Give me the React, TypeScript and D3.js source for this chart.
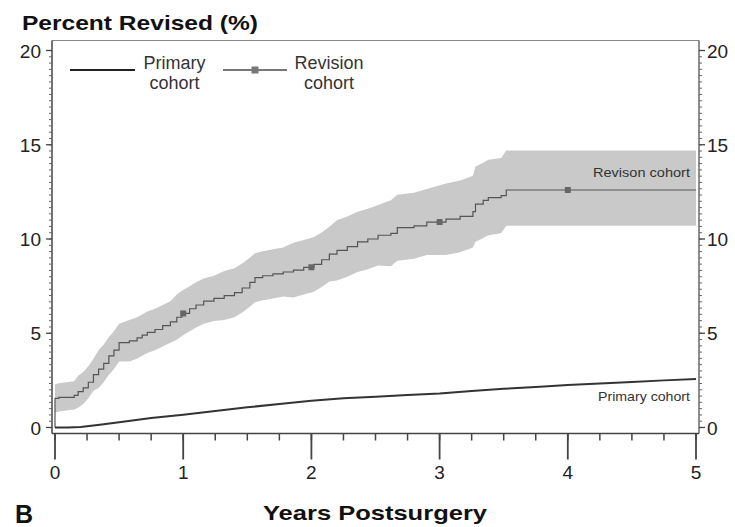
import React from "react";
import * as d3 from "d3";

// ---- Data ----
const revTime = [0, 0.03, 0.15, 0.18, 0.22, 0.26, 0.30, 0.34, 0.38, 0.42, 0.46, 0.50, 0.58, 0.64, 0.68, 0.72, 0.78, 0.84, 0.90, 0.95, 0.99, 1.05, 1.10, 1.16, 1.24, 1.32, 1.40, 1.46, 1.52, 1.56, 1.62, 1.70, 1.78, 1.86, 1.94, 2.02, 2.08, 2.14, 2.20, 2.28, 2.36, 2.44, 2.52, 2.62, 2.67, 2.80, 2.90, 3.05, 3.16, 3.26, 3.28, 3.34, 3.38, 3.48, 3.52, 5.0];
const revValue = [1.55, 1.6, 1.7, 1.9, 2.1, 2.4, 2.8, 3.1, 3.4, 3.8, 4.1, 4.5, 4.6, 4.75, 4.9, 5.05, 5.2, 5.4, 5.6, 5.85, 6.05, 6.3, 6.5, 6.7, 6.85, 7.0, 7.15, 7.4, 7.7, 7.95, 8.05, 8.15, 8.25, 8.35, 8.5, 8.65, 8.9, 9.2, 9.4, 9.6, 9.85, 10.0, 10.2, 10.3, 10.6, 10.7, 10.9, 11.05, 11.2, 11.45, 11.85, 12.05, 12.2, 12.3, 12.6, 12.6];
const revLower = [0.8, 0.85, 0.95, 1.05, 1.25, 1.55, 1.95, 2.1, 2.4, 2.8, 3.1, 3.5, 3.5, 3.65, 3.8, 3.95, 4.1, 4.3, 4.5, 4.65, 4.85, 5.1, 5.3, 5.5, 5.65, 5.7, 5.85, 6.1, 6.4, 6.65, 6.75, 6.85, 6.95, 6.9, 7.05, 7.2, 7.45, 7.75, 7.8, 8.0, 8.25, 8.4, 8.6, 8.55, 8.85, 8.95, 9.15, 9.15, 9.3, 9.55, 9.85, 10.05, 10.2, 10.3, 10.7, 10.7];
const revUpper = [2.3, 2.35, 2.45, 2.75, 2.95, 3.25, 3.65, 4.1, 4.4, 4.8, 5.1, 5.5, 5.7, 5.85, 6.0, 6.15, 6.3, 6.5, 6.7, 7.05, 7.25, 7.5, 7.7, 7.9, 8.05, 8.3, 8.45, 8.7, 9.0, 9.25, 9.35, 9.45, 9.55, 9.8, 9.95, 10.1, 10.35, 10.65, 11.0, 11.2, 11.45, 11.6, 11.8, 12.05, 12.35, 12.45, 12.65, 12.95, 13.1, 13.35, 13.85, 14.05, 14.2, 14.3, 14.7, 14.7];
const revMarkerTimes = [1, 2, 3, 4];

const primTime = [0, 0.1, 0.2, 0.35, 0.5, 0.75, 1.0, 1.25, 1.5, 1.75, 2.0, 2.25, 2.5, 2.75, 3.0, 3.25, 3.5, 3.75, 4.0, 4.25, 4.5, 4.75, 5.0];
const primValue = [0, 0.0, 0.03, 0.15, 0.28, 0.5, 0.68, 0.88, 1.07, 1.25, 1.42, 1.55, 1.63, 1.72, 1.8, 1.93, 2.05, 2.15, 2.26, 2.34, 2.42, 2.5, 2.57];

const xMajorTicks = [0, 1, 2, 3, 4, 5];
const yMajorTicks = [0, 5, 10, 15, 20];

const yTitle = "Percent Revised (%)";
const xTitle = "Years Postsurgery";
const panelLabel = "B";
const primaryName = ["Primary", "cohort"];
const revisionName = ["Revision", "cohort"];
const revInlineLabel = "Revison cohort";
const primInlineLabel = "Primary cohort";

// ---- Layout ----
const W = 735;
const H = 527;
const frame = { left: 52, right: 699, top: 40.5, bottom: 433.5 };
const FONT = "'Liberation Sans', Arial, Helvetica, sans-serif";

export default function App() {
  const x = d3.scaleLinear().domain([0, 5]).range([55, 696]);
  const y = d3.scaleLinear().domain([0, 20]).range([427.5, 50.5]);

  const rev = revTime.map((t, i) => ({ t, v: revValue[i], lo: revLower[i], hi: revUpper[i] }));
  const prim = primTime.map((t, i) => ({ t, v: primValue[i] }));

  const area = d3
    .area<any>()
    .x((d) => x(d.t))
    .y0((d) => y(d.lo))
    .y1((d) => y(d.hi))
    .curve(d3.curveLinear);
  const revLine = d3
    .line<any>()
    .x((d) => x(d.t))
    .y((d) => y(d.v))
    .curve(d3.curveStepAfter);
  const primLine = d3
    .line<any>()
    .x((d) => x(d.t))
    .y((d) => y(d.v));

  const bis = d3.bisector((d: any) => d.t).right;
  const markers = revMarkerTimes.map((t) => {
    const i = Math.max(0, bis(rev, t) - 1);
    return { t, v: rev[i].v };
  });

  const xMinor = d3.range(0, 5.001, 0.25);
  const yMinor = d3.range(0, 61).map((k) => k / 3).filter((v) => v <= 20.001);

  const axisColor = "#444";

  return (
    <svg
      width={W}
      height={H}
      viewBox={`0 0 ${W} ${H}`}
      style={{ position: "absolute", left: 0, top: 0, background: "#fff" }}
      fontFamily={FONT}
    >
      <rect x={0} y={0} width={W} height={H} fill="#fff" />

      {/* CI band */}
      <path d={area(rev) || ""} fill="#c9c9c9" stroke="none" />

      {/* Revision line: starts at 0 with a vertical jump */}
      <path
        d={revLine([{ t: 0, v: 0 }, ...rev]) || ""}
        fill="none"
        stroke="#555"
        strokeWidth={1.2}
      />
      {markers.map((m, i) => (
        <rect key={i} x={x(m.t) - 3} y={y(m.v) - 3} width={6} height={6} fill="#666" />
      ))}

      {/* Primary line */}
      <path d={primLine(prim) || ""} fill="none" stroke="#333" strokeWidth={2} />

      {/* Inline labels */}
      <text x={690} y={176.5} fontSize={13} fill="#333" textAnchor="end" textLength={97} lengthAdjust="spacingAndGlyphs">
        {revInlineLabel}
      </text>
      <text x={690} y={400.5} fontSize={13} fill="#333" textAnchor="end" textLength={92} lengthAdjust="spacingAndGlyphs">
        {primInlineLabel}
      </text>

      {/* Frame */}
      <line x1={frame.left} x2={frame.right} y1={frame.top} y2={frame.top} stroke="#888" strokeWidth={1.2} />
      <line x1={frame.right} x2={frame.right} y1={frame.top} y2={frame.bottom} stroke={axisColor} strokeWidth={1.2} />
      <line x1={frame.left} x2={frame.left} y1={frame.top} y2={frame.bottom} stroke={axisColor} strokeWidth={1.5} />
      <line x1={frame.left} x2={frame.right} y1={frame.bottom} y2={frame.bottom} stroke={axisColor} strokeWidth={1.5} />

      {/* X ticks */}
      {xMinor.map((t, i) => (
        <line key={"xm" + i} x1={x(t)} x2={x(t)} y1={frame.bottom} y2={frame.bottom + 7} stroke={axisColor} strokeWidth={1.5} />
      ))}
      {xMajorTicks.map((t) => (
        <g key={"xM" + t}>
          <line x1={x(t)} x2={x(t)} y1={frame.bottom} y2={frame.bottom + 26} stroke={axisColor} strokeWidth={1.8} />
          <text x={x(t)} y={479} fontSize={19} textAnchor="middle" fill="#222">
            {t}
          </text>
        </g>
      ))}

      {/* Y ticks left & right */}
      {yMinor.map((v, i) => (
        <g key={"ym" + i}>
          <line x1={frame.left - 3} x2={frame.left} y1={y(v)} y2={y(v)} stroke="#666" strokeWidth={1} />
          <line x1={frame.right} x2={frame.right + 3} y1={y(v)} y2={y(v)} stroke="#666" strokeWidth={1} />
        </g>
      ))}
      {yMajorTicks.map((v) => (
        <g key={"yM" + v}>
          <line x1={frame.left - 6} x2={frame.left} y1={y(v)} y2={y(v)} stroke={axisColor} strokeWidth={1.3} />
          <line x1={frame.right} x2={frame.right + 6} y1={y(v)} y2={y(v)} stroke={axisColor} strokeWidth={1.3} />
          <text x={41} y={y(v) + 7} fontSize={19} textAnchor="end" fill="#222">
            {v}
          </text>
          <text x={707} y={y(v) + 7} fontSize={19} textAnchor="start" fill="#222">
            {v}
          </text>
        </g>
      ))}

      {/* Legend */}
      <line x1={70} x2={135} y1={70} y2={70} stroke="#222" strokeWidth={2.2} />
      <text x={174.5} y={68.5} fontSize={18} textAnchor="middle" fill="#333">{primaryName[0]}</text>
      <text x={174.5} y={88.5} fontSize={18} textAnchor="middle" fill="#333">{primaryName[1]}</text>
      <line x1={223} x2={287} y1={70} y2={70} stroke="#777" strokeWidth={2.2} />
      <rect x={251.5} y={66.5} width={7} height={7} fill="#777" />
      <text x={329} y={68.5} fontSize={18} textAnchor="middle" fill="#333">{revisionName[0]}</text>
      <text x={329} y={88.5} fontSize={18} textAnchor="middle" fill="#333">{revisionName[1]}</text>

      {/* Titles */}
      <text x={22} y={29.5} fontSize={21} fontWeight="bold" fill="#111" textLength={236} lengthAdjust="spacingAndGlyphs">
        {yTitle}
      </text>
      <text x={263} y={520} fontSize={21} fontWeight="bold" fill="#111" textLength={224} lengthAdjust="spacingAndGlyphs">
        {xTitle}
      </text>
      <text x={15} y={523} fontSize={25} fontWeight="bold" fill="#111">
        {panelLabel}
      </text>
    </svg>
  );
}
